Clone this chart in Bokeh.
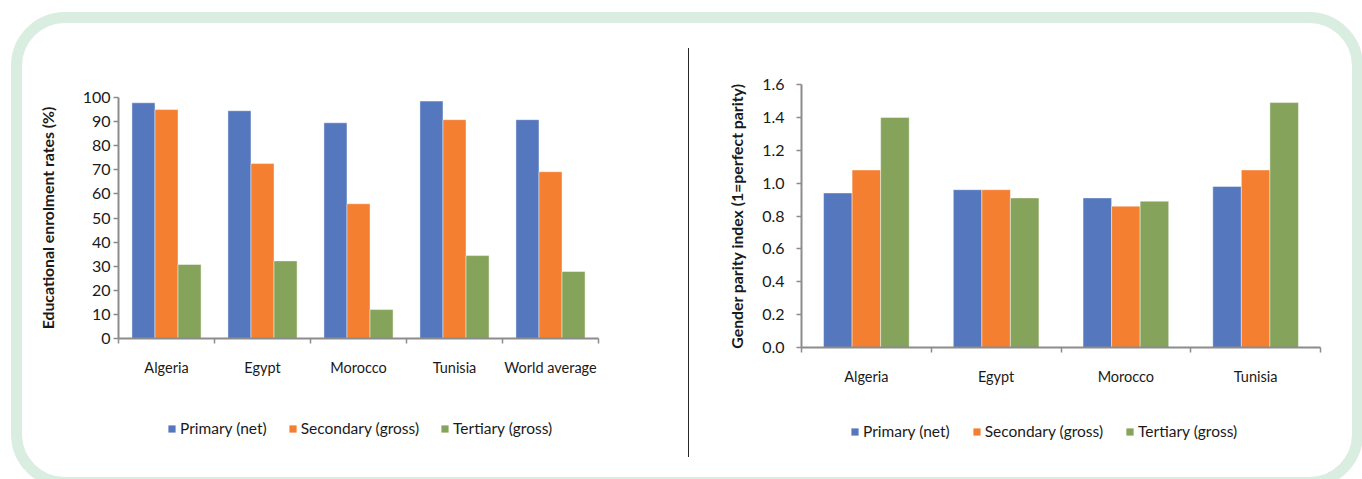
from bokeh.plotting import figure
from bokeh.models import (ColumnDataSource, FixedTicker, Legend, LegendItem,
                          Range1d, Div, GridBox, NumeralTickFormatter)
from bokeh.layouts import row, column
from bokeh.embed import file_html
from bokeh.resources import INLINE

# Enrolment rates (%)
enrol_countries = ["Algeria", "Egypt", "Morocco", "Tunisia", "World average"]
enrol_primary = [97.8, 94.5, 89.5, 98.5, 90.8]
enrol_secondary = [95.0, 72.6, 55.9, 90.8, 69.2]
enrol_tertiary = [30.7, 32.2, 12.0, 34.4, 27.8]
enrol_ticks = [0, 10, 20, 30, 40, 50, 60, 70, 80, 90, 100]

# Gender parity index
gpi_countries = ["Algeria", "Egypt", "Morocco", "Tunisia"]
gpi_primary = [0.94, 0.96, 0.91, 0.98]
gpi_secondary = [1.08, 0.96, 0.86, 1.08]
gpi_tertiary = [1.40, 0.91, 0.89, 1.49]
gpi_ticks = [0.0, 0.2, 0.4, 0.6, 0.8, 1.0, 1.2, 1.4, 1.6]

series_names = ["Primary (net)", "Secondary (gross)", "Tertiary (gross)"]
series_colors = ["#5577BD", "#F47F30", "#85A35A"]

FONT = "Lato"
AXIS_GREY = "#8C8C8C"
TEXT = "#1A1A1A"
CHART_H = 400
LEGEND_H = 479 - CHART_H


def transparent(p):
    p.background_fill_alpha = 0
    p.border_fill_alpha = 0
    p.outline_line_color = None
    p.grid.visible = False


def bar_chart(categories, series, ticks, tick_fmt, y_label, width, borders,
              group_width, label_standoff, tick_standoff):
    left, right, top, frame_h = borders
    n = len(categories)
    p = figure(width=width, height=CHART_H, output_backend="svg", toolbar_location=None,
               x_range=Range1d(0, n), y_range=Range1d(ticks[0], ticks[-1]),
               min_border_left=left, min_border_right=right,
               min_border_top=top, min_border_bottom=CHART_H - top - frame_h)
    transparent(p)

    bw = group_width / 3
    for k, (vals, color) in enumerate(zip(series, series_colors)):
        src = ColumnDataSource(dict(
            x=[i + 0.5 + (k - 1) * bw for i in range(n)],
            top=vals,
        ))
        p.vbar(x="x", top="top", bottom=0, width=bw, source=src,
               fill_color=color, line_color="white", line_alpha=0.55,
               line_width=0.8)

    # x axis: ticks on category boundaries, labels on category centres
    xa = p.xaxis[0]
    xa.ticker = FixedTicker(ticks=[i + 0.5 for i in range(n)],
                            minor_ticks=list(range(n + 1)))
    xa.major_label_overrides = {i + 0.5: c for i, c in enumerate(categories)}
    xa.major_tick_out = 0
    xa.major_tick_in = 0
    xa.minor_tick_out = 5
    xa.minor_tick_in = 0
    xa.minor_tick_line_color = AXIS_GREY
    xa.minor_tick_line_width = 1.5
    xa.axis_line_color = AXIS_GREY
    xa.axis_line_width = 2
    xa.major_label_standoff = 15
    xa.major_label_text_font = FONT
    xa.major_label_text_font_size = "14.5px"
    xa.major_label_text_color = TEXT

    ya = p.yaxis[0]
    ya.ticker = FixedTicker(ticks=ticks, minor_ticks=[])
    ya.formatter = NumeralTickFormatter(format=tick_fmt)
    ya.major_tick_out = 5
    ya.major_tick_in = 0
    ya.major_tick_line_color = AXIS_GREY
    ya.major_tick_line_width = 1.5
    ya.axis_line_color = AXIS_GREY
    ya.axis_line_width = 2
    ya.major_label_standoff = tick_standoff
    ya.major_label_text_font = FONT
    ya.major_label_text_font_size = "16px"
    ya.major_label_text_color = TEXT
    ya.axis_label = y_label
    ya.axis_label_text_font = FONT
    ya.axis_label_text_font_style = "bold"
    ya.axis_label_text_font_size = "15.8px"
    ya.axis_label_text_color = TEXT
    ya.axis_label_standoff = label_standoff
    return p


def legend_strip(width, x, y, spacing):
    # a strip under the chart holding the series key; its frame lines up
    # with the chart frame above it
    p = figure(width=width, height=LEGEND_H, output_backend="svg", toolbar_location=None,
               x_range=Range1d(0, 1), y_range=Range1d(0, 1),
               x_axis_location=None, y_axis_location=None, min_border=0)
    transparent(p)
    items = []
    for name, color in zip(series_names, series_colors):
        r = p.vbar(x=[0.5], top=[0], bottom=0, width=0.1, fill_color=color,
                   line_color=None)
        items.append(LegendItem(label=name, renderers=[r]))
    legend = Legend(items=items, orientation="horizontal", location=(x, y),
                    padding=0, margin=0, spacing=spacing, label_standoff=4,
                    glyph_width=9, glyph_height=9, label_height=12,
                    border_line_color=None, background_fill_alpha=0,
                    label_text_font=FONT, label_text_font_size="15.5px",
                    label_text_color=TEXT)
    p.add_layout(legend, "center")
    return p


left_chart = bar_chart(enrol_countries, [enrol_primary, enrol_secondary, enrol_tertiary],
                       enrol_ticks, "0", "Educational enrolment rates (%)",
                       width=688, borders=(118, 90, 97, 241), group_width=0.72,
                       label_standoff=23, tick_standoff=3)
right_chart = bar_chart(gpi_countries, [gpi_primary, gpi_secondary, gpi_tertiary],
                        gpi_ticks, "0.0", "Gender parity index (1=perfect parity)",
                        width=674, borders=(113, 42, 84, 263), group_width=0.66,
                        label_standoff=13, tick_standoff=12)

left_key = legend_strip(688, 49, 42, 21)
right_key = legend_strip(674, 49, 39, 22)

# Rounded panel frame and the divider between the two charts
panel = Div(width=1362, height=479, text=(
    '<div style="width:1362px;height:479px;overflow:hidden;">'
    '<div style="box-sizing:border-box;margin-left:6px;margin-top:7px;'
    'width:1352px;height:476px;border:11px solid #DAEDE1;border-radius:54px;'
    'padding-top:25px;padding-left:666px;">'
    '<div style="width:1px;height:409px;background:#262626;"></div>'
    '</div></div>'))

charts = row(column(left_chart, left_key), column(right_chart, right_key),
             styles={"position": "relative", "z-index": "1"})
page = GridBox(children=[(panel, 0, 0), (charts, 0, 0)])

open("out.html", "w").write(file_html(page, INLINE))
